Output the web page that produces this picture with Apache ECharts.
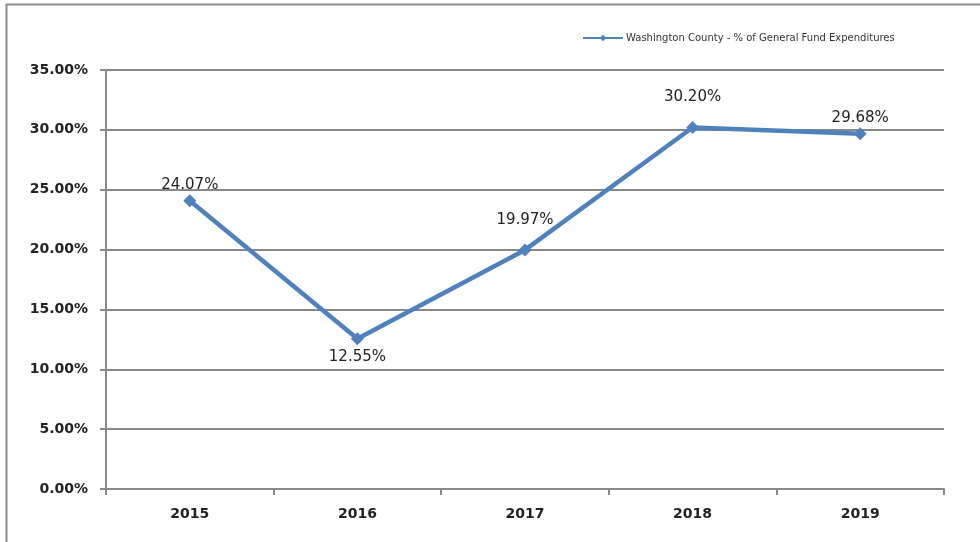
<!DOCTYPE html>
<html>
<head>
<meta charset="utf-8">
<script src="https://cdn.jsdelivr.net/npm/echarts@6/dist/echarts.min.js"></script>
<style>
  html, body { margin: 0; padding: 0; background: #fff; }
  #chart { width: 980px; height: 542px; }
</style>
</head>
<body>
<div id="chart"></div>
<script>
const years = ['2015', '2016', '2017', '2018', '2019'];
const pctValues = [24.07, 12.55, 19.97, 30.20, 29.68];
const labelBelow = [false, true, false, false, false];
// label gap from marker, per point (style only)
const labelGap = [2, 4, 16, 16, 2];
const seriesName = 'Washington County - % of General Fund Expenditures';

const chart = echarts.init(document.getElementById('chart'), undefined, { renderer: 'canvas' });

const fontMain = 'DejaVu Sans, sans-serif';

chart.setOption({
  backgroundColor: '#fff',
  animation: false,
  graphic: [{
    type: 'rect',
    shape: { x: 6.5, y: 4.5, width: 1000, height: 600 },
    style: { fill: 'none', stroke: '#8c8c8c', lineWidth: 2 }
  }],
  legend: {
    data: [seriesName],
    left: 582, top: 33,
    itemWidth: 40, itemHeight: 8, itemGap: 0,
    textStyle: { color: '#333', fontSize: 10, fontFamily: fontMain, padding: [0, 0, 0, -2] },
    padding: 0
  },
  grid: { left: 106, right: 36, top: 70, bottom: 53, containLabel: false },
  xAxis: {
    type: 'category',
    data: years,
    boundaryGap: true,
    axisLine: { lineStyle: { color: '#888', width: 2 } },
    axisTick: { show: true, alignWithLabel: false, length: 6, lineStyle: { color: '#888', width: 2 } },
    axisLabel: { color: '#222', fontSize: 14, fontWeight: 'bold', margin: 18, fontFamily: fontMain }
  },
  yAxis: {
    type: 'value',
    min: 0, max: 35, interval: 5,
    axisLine: { show: true, lineStyle: { color: '#888', width: 2 } },
    axisTick: { show: true, length: 6, lineStyle: { color: '#888', width: 2 } },
    splitLine: { lineStyle: { color: '#888', width: 2 } },
    axisLabel: {
      color: '#222', fontSize: 14, fontWeight: 'bold', margin: 18,
      fontFamily: fontMain,
      formatter: v => v.toFixed(2) + '%'
    }
  },
  series: [{
    name: seriesName,
    type: 'line',
    data: pctValues.map((v, i) => ({
      value: v,
      label: { position: labelBelow[i] ? 'bottom' : 'top', distance: labelGap[i] }
    })),
    symbol: 'diamond',
    symbolSize: 13,
    lineStyle: { color: '#4f81bd', width: 4.5 },
    itemStyle: { color: '#4f81bd' },
    label: {
      show: true,
      color: '#222',
      fontSize: 15,
      fontFamily: fontMain,
      formatter: p => p.value.toFixed(2) + '%'
    }
  }]
});
</script>
</body>
</html>
